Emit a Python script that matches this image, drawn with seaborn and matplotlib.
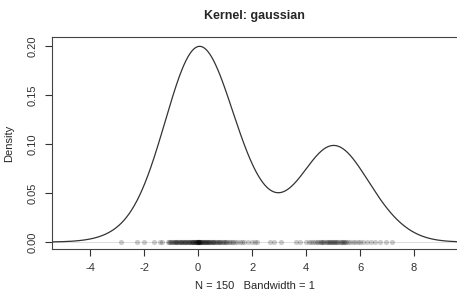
import numpy as np
import seaborn as sns
import matplotlib.pyplot as plt

left_group = [-2.85, -2.25, -2.02, -1.62, -1.42, -1.35, -1.12, -1.08, -1.03, -0.99,
              -0.95, -0.92, -0.89, -0.86, -0.83, -0.80, -0.77, -0.74, -0.71, -0.68,
              -0.65, -0.62, -0.59, -0.56, -0.53, -0.50, -0.47, -0.44, -0.41, -0.38,
              -0.35, -0.32, -0.30, -0.27, -0.24, -0.22, -0.19, -0.17, -0.14, -0.12,
              -0.10, -0.08, -0.06, -0.05, -0.03, -0.02, -0.01, 0.00, 0.01, 0.02,
              0.03, 0.04, 0.06, 0.08, 0.10, 0.12, 0.15, 0.17, 0.19, 0.22,
              0.24, 0.27, 0.29, 0.32, 0.34, 0.37, 0.40, 0.42, 0.45, 0.48,
              0.51, 0.54, 0.57, 0.60, 0.63, 0.66, 0.70, 0.73, 0.76, 0.80,
              0.83, 0.87, 0.91, 0.95, 0.99, 1.03, 1.08, 1.13, 1.18, 1.24,
              1.30, 1.37, 1.45, 1.55, 1.62, 1.70, 1.85, 1.98, 2.10, 2.20]
right_group = [2.67, 2.80, 3.07, 3.62, 3.78, 3.98, 4.10, 4.20, 4.27, 4.34,
               4.40, 4.45, 4.50, 4.55, 4.60, 4.64, 4.68, 4.72, 4.76, 4.80,
               4.84, 4.88, 4.92, 4.96, 5.00, 5.03, 5.07, 5.11, 5.15, 5.19,
               5.24, 5.28, 5.32, 5.36, 5.40, 5.44, 5.49, 5.55, 5.62, 5.72,
               5.82, 5.92, 6.00, 6.10, 6.25, 6.40, 6.55, 6.75, 6.95, 7.20]
bandwidth = 1.0
x_ticks = [-4, -2, 0, 2, 4, 6, 8]
y_ticks = [0.00, 0.05, 0.10, 0.15, 0.20]

data = np.array(left_group + right_group)

sns.set_style("ticks")
plt.rcParams['font.family'] = ['Liberation Sans', 'DejaVu Sans']

fig = plt.figure(figsize=(4.57, 2.95), dpi=100)
ax = fig.add_axes([52 / 457, 46 / 295, 405 / 457, 212 / 295])

ax.axhline(0, color='#d8d8d8', lw=0.6, zorder=0)
sns.kdeplot(x=data, bw_method=bandwidth / np.std(data, ddof=1), cut=3,
            gridsize=1024, color='#333333', lw=0.9, ax=ax)
sns.scatterplot(x=data, y=np.zeros(len(data)), color='black', alpha=0.2,
                s=14, linewidth=0, ax=ax)

ax.set_xlim(-5.41, 9.59)
ax.set_ylim(-0.00714, 0.2092)
ax.set_xticks(x_ticks)
ax.set_xticklabels([str(t) for t in x_ticks])
ax.set_yticks(y_ticks)
ax.set_yticklabels([f"{t:.2f}" for t in y_ticks], rotation=90, va='center')
ax.tick_params(labelsize=8, length=5, width=0.8, colors='#333333', pad=5)
for side in ['left', 'bottom', 'top']:
    ax.spines[side].set_color('#444444')
    ax.spines[side].set_linewidth(0.8)
ax.spines['right'].set_visible(False)

ax.set_title("Kernel: gaussian", fontsize=9, fontweight='bold', pad=13)
ax.set_xlabel("N = 150   Bandwidth = 1", fontsize=8, labelpad=6)
ax.set_ylabel("Density", fontsize=8, labelpad=10)

fig.savefig("out.png", dpi=100)
